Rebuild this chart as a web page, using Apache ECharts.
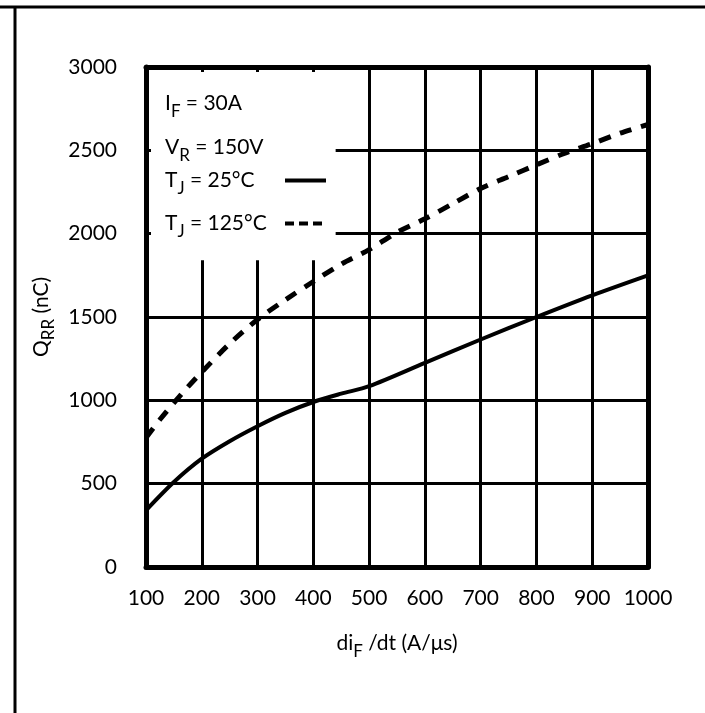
<!DOCTYPE html>
<html>
<head>
<meta charset="utf-8">
<script src="https://cdn.jsdelivr.net/npm/echarts@6/dist/echarts.min.js"></script>
<style>
html,body{margin:0;padding:0;background:#fff;}
#chart{width:705px;height:713px;}
</style>
</head>
<body>
<div id="chart"></div>
<script>
// ---- data ----
const di25 = [100, 150, 200, 250, 300, 350, 400, 450, 500, 600, 700, 800, 900, 1000];
const qrr25 = [340, 510, 650, 755, 845, 925, 990, 1040, 1085, 1225, 1365, 1500, 1630, 1750];
const di125 = [100, 125, 150, 175, 200, 250, 300, 350, 400, 450, 500, 550, 600, 650, 700, 750, 800, 850, 900, 950, 1000];
const qrr125 = [775, 885, 985, 1080, 1170, 1340, 1485, 1603, 1713, 1817, 1904, 2008, 2089, 2180, 2271, 2342, 2413, 2482, 2540, 2603, 2655];
const xTicks = [100, 200, 300, 400, 500, 600, 700, 800, 900, 1000];
const yTicks = [0, 500, 1000, 1500, 2000, 2500, 3000];
const seriesNames = ['T_J = 25°C', 'T_J = 125°C'];
const seriesParts = [['T', 'J', ' = 25°C'], ['T', 'J', ' = 125°C']];
const noteLabels = ['{b|I}{s|F}{b| = 30A}', '{b|V}{s|R}{b| = 150V}'];
const xName = '{b|di}{s|F}{b| /dt (A/μs)}';
const yName = '{b|Q}{s|RR}{b| (nC)}';

const FONT = 'Lato';
const FS = 21, FSS = 17;
const LEGEND_TEXT_W = 115;

const cv = document.createElement('canvas').getContext('2d');
function tw(str, size) { cv.font = size + 'px ' + FONT; return cv.measureText(str).width; }

const rich = {
  b: {fontFamily: FONT, fontSize: FS, color: '#000', fontWeight: 'normal'},
  s: {fontFamily: FONT, fontSize: FSS, color: '#000', fontWeight: 'normal', padding: [16, 0, 0, 0]}
};
const seriesLabels = seriesParts.map(function (p, i) {
  const w = tw(p[0], FS) + tw(p[1], FSS) + tw(p[2], FS);
  rich['sp' + i] = {width: Math.max(0, LEGEND_TEXT_W - w), fontSize: FS};
  return '{b|' + p[0] + '}{s|' + p[1] + '}{b|' + p[2] + '}{sp' + i + '|}';
});

const chart = echarts.init(document.getElementById('chart'), null, {renderer: 'canvas'});
const xMin = xTicks[0], xMax = xTicks[xTicks.length - 1], xInt = xTicks[1] - xTicks[0];
const yMin = yTicks[0], yMax = yTicks[yTicks.length - 1], yInt = yTicks[1] - yTicks[0];

function baseAxis(extra, isX) {
  return Object.assign({
    type: 'value',
    min: isX ? xMin : yMin,
    max: isX ? xMax : yMax,
    interval: isX ? xInt : yInt,
    axisLine: {show: true, onZero: false, lineStyle: {color: '#000', width: 5}},
    axisTick: {show: true, inside: true, length: 5, lineStyle: {color: '#000', width: 3}},
    axisLabel: {show: false},
    splitLine: {show: false},
    z: 5
  }, extra);
}
const labelStyle = {show: true, fontFamily: FONT, fontSize: FS, color: '#000',
  formatter: function (v) { return String(v); }};

const option = {
  animation: false,
  backgroundColor: '#fff',
  grid: {left: 146, right: 57, top: 67, bottom: 146, containLabel: false},
  title: [
    {text: noteLabels[0], left: 165, top: 87, padding: 0, textStyle: {fontWeight: 'normal', rich: rich}},
    {text: noteLabels[1], left: 165, top: 131, padding: 0, textStyle: {fontWeight: 'normal', rich: rich}}
  ],
  legend: {
    orient: 'vertical', left: 165, top: 170, padding: 0, itemGap: 16,
    align: 'right', itemWidth: 41, itemHeight: 14, selectedMode: false,
    textStyle: {fontFamily: FONT, fontSize: FS, color: '#000', rich: rich},
    itemStyle: {opacity: 0, color: 'rgba(0,0,0,0)', borderWidth: 0},
    formatter: function (name) { return seriesLabels[seriesNames.indexOf(name)]; },
    data: [
      {name: seriesNames[0], lineStyle: {width: 4, type: 'solid', color: '#000'}},
      {name: seriesNames[1], lineStyle: {width: 4, type: [9, 5], color: '#000'}}
    ]
  },
  xAxis: [
    baseAxis({
      position: 'bottom',
      axisLabel: Object.assign({margin: 21}, labelStyle),
      name: xName, nameLocation: 'middle', nameGap: 60,
      nameTextStyle: {rich: rich}
    }, true),
    baseAxis({position: 'top'}, true),
    baseAxis({
      position: 'bottom', z: 0,
      axisLine: {show: false}, axisTick: {show: false},
      splitLine: {show: true, lineStyle: {color: '#000', width: 3}}
    }, true)
  ],
  yAxis: [
    baseAxis({
      position: 'left',
      axisLabel: Object.assign({margin: 29}, labelStyle),
      name: yName, nameLocation: 'middle', nameGap: 80,
      nameTextStyle: {rich: rich}
    }, false),
    baseAxis({position: 'right'}, false),
    baseAxis({
      position: 'left', z: 0,
      axisLine: {show: false}, axisTick: {show: false},
      splitLine: {show: true, lineStyle: {color: '#000', width: 3}}
    }, false)
  ],
  graphic: [
    {type: 'line', silent: true, shape: {x1: 0, y1: 7, x2: 705, y2: 7}, style: {stroke: '#000', lineWidth: 3}},
    {type: 'line', silent: true, shape: {x1: 15, y1: 7, x2: 15, y2: 713}, style: {stroke: '#000', lineWidth: 3}}
  ],
  series: [
    {
      name: seriesNames[0], type: 'line', xAxisIndex: 0, yAxisIndex: 0,
      data: di25.map((x, i) => [x, qrr25[i]]),
      symbol: 'none', smooth: 0.3,
      lineStyle: {color: '#000', width: 4},
      itemStyle: {color: '#000'},
      markArea: {
        silent: true,
        itemStyle: {color: '#fff', opacity: 1},
        data: [[{xAxis: 100, yAxis: 1840}, {xAxis: 440, yAxis: 3000}]]
      }
    },
    {
      name: seriesNames[1], type: 'line', xAxisIndex: 0, yAxisIndex: 0,
      data: di125.map((x, i) => [x, qrr125[i]]),
      symbol: 'none', smooth: 0.3,
      lineStyle: {color: '#000', width: 5, type: [12, 10]},
      itemStyle: {color: '#000'}
    }
  ]
};
chart.setOption(option);
</script>
</body>
</html>
